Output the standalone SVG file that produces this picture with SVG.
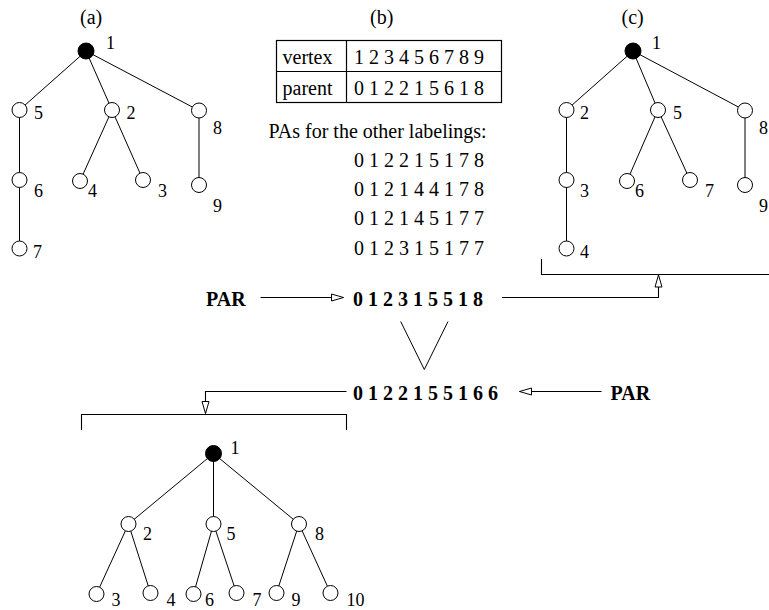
<svg xmlns="http://www.w3.org/2000/svg" width="769" height="610" viewBox="0 0 769 610">
  <style>
    text { font-family: "Liberation Serif", "Times New Roman", serif; fill: #000; }
    .cap { font-size: 20px; }
    .lbl { font-size: 18px; }
    .seq { font-size: 20px; font-weight: bold; }
    .node { fill: #fff; stroke: #000; stroke-width: 1; }
    .root { fill: #000; stroke: #000; stroke-width: 1; }
    .edge { fill: none; stroke: #000; stroke-width: 1; }
    .wire { fill: none; stroke: #000; stroke-width: 1.1; }
    .grid { fill: none; stroke: #000; stroke-width: 1.2; }
  </style>
  <defs>
    <marker id="openArrow" markerUnits="userSpaceOnUse" markerWidth="14" markerHeight="9" refX="12" refY="3.5" orient="auto" overflow="visible">
      <path d="M0,0 L12,3.5 L0,7 Z" fill="#fff" stroke="#000" stroke-width="1"/>
    </marker>
  </defs>

  <rect width="769" height="610" fill="#fff"/>

  <!-- panel captions -->
  <text class="cap" x="80" y="24">(a)</text>
  <text class="cap" x="370" y="24">(b)</text>
  <text class="cap" x="621.5" y="24">(c)</text>

  <!-- tree edges -->
  <g id="connectors">
    <!-- tree (a) -->
    <line class="edge" x1="86" y1="51" x2="19.5" y2="110"/>
    <line class="edge" x1="86" y1="51" x2="112" y2="110"/>
    <line class="edge" x1="86" y1="51" x2="199" y2="110.5"/>
    <line class="edge" x1="19.5" y1="110" x2="19.5" y2="180"/>
    <line class="edge" x1="19.5" y1="180" x2="19.5" y2="248.5"/>
    <line class="edge" x1="112" y1="110" x2="80" y2="181"/>
    <line class="edge" x1="112" y1="110" x2="143" y2="180"/>
    <line class="edge" x1="199" y1="110.5" x2="199" y2="185"/>
    <!-- tree (c) -->
    <line class="edge" x1="633" y1="51" x2="566.5" y2="110"/>
    <line class="edge" x1="633" y1="51" x2="658" y2="110"/>
    <line class="edge" x1="633" y1="51" x2="745" y2="110.5"/>
    <line class="edge" x1="566.5" y1="110" x2="566.5" y2="180"/>
    <line class="edge" x1="566.5" y1="180" x2="566.5" y2="248.5"/>
    <line class="edge" x1="658" y1="110" x2="627" y2="181"/>
    <line class="edge" x1="658" y1="110" x2="690" y2="180"/>
    <line class="edge" x1="745" y1="110.5" x2="745" y2="185"/>
    <!-- result tree -->
    <line class="edge" x1="213.5" y1="453.5" x2="128.5" y2="524"/>
    <line class="edge" x1="213.5" y1="453.5" x2="213.5" y2="524"/>
    <line class="edge" x1="213.5" y1="453.5" x2="299" y2="524"/>
    <line class="edge" x1="128.5" y1="524" x2="96.5" y2="594"/>
    <line class="edge" x1="128.5" y1="524" x2="150.5" y2="593"/>
    <line class="edge" x1="213.5" y1="524" x2="193.5" y2="594"/>
    <line class="edge" x1="213.5" y1="524" x2="236.5" y2="593"/>
    <line class="edge" x1="299" y1="524" x2="276.5" y2="593"/>
    <line class="edge" x1="299" y1="524" x2="330.5" y2="593"/>

    <!-- flow wires between the codes and the trees -->
    <line class="wire" x1="260.5" y1="297.5" x2="343.5" y2="297.5" marker-end="url(#openArrow)"/>
    <polyline class="wire" points="502,297.5 658.5,297.5 658.5,275" marker-end="url(#openArrow)"/>
    <line class="wire" x1="601.5" y1="391.5" x2="519.5" y2="391.5" marker-end="url(#openArrow)"/>
    <polyline class="wire" points="346.5,391.5 205.5,391.5 205.5,413.5" marker-end="url(#openArrow)"/>
    <!-- brackets -->
    <polyline class="wire" points="541.5,259 541.5,274.5 769,274.5"/>
    <polyline class="wire" points="81.5,430 81.5,414.5 346.5,414.5 346.5,430"/>
    <!-- join symbol -->
    <polyline class="edge" points="400.7,321.5 424.3,369.5 448,321.5" stroke-width="1.2"/>
  </g>

  <!-- tree (a) -->
  <g id="a1"><circle class="root" cx="86" cy="51" r="8"/><text class="lbl" x="106" y="48.5">1</text></g>
  <g id="a5"><circle class="node" cx="19.5" cy="110" r="7.5"/><text class="lbl" x="34" y="119">5</text></g>
  <g id="a2"><circle class="node" cx="112" cy="110" r="7.5"/><text class="lbl" x="126.5" y="119">2</text></g>
  <g id="a8"><circle class="node" cx="199" cy="110.5" r="7.5"/><text class="lbl" x="213" y="134">8</text></g>
  <g id="a6"><circle class="node" cx="19.5" cy="180" r="7.5"/><text class="lbl" x="34" y="196.5">6</text></g>
  <g id="a4"><circle class="node" cx="80" cy="181" r="7.5"/><text class="lbl" x="88" y="196.5">4</text></g>
  <g id="a3"><circle class="node" cx="143" cy="180" r="7.5"/><text class="lbl" x="158" y="196.5">3</text></g>
  <g id="a9"><circle class="node" cx="199" cy="185" r="7.5"/><text class="lbl" x="213" y="211.5">9</text></g>
  <g id="a7"><circle class="node" cx="19.5" cy="248.5" r="7.5"/><text class="lbl" x="33" y="257.5">7</text></g>

  <!-- table (b) -->
  <g id="table">
    <rect class="grid" x="276.5" y="40.5" width="225" height="62"/>
    <line class="grid" x1="346.5" y1="40.5" x2="346.5" y2="102.5"/>
    <line class="grid" x1="276.5" y1="71.5" x2="501.5" y2="71.5"/>
    <text class="cap" x="282.5" y="64">vertex</text>
    <text class="cap" x="354" y="64">1 2 3 4 5 6 7 8 9</text>
    <text class="cap" x="282.5" y="95">parent</text>
    <text class="cap" x="354" y="95">0 1 2 2 1 5 6 1 8</text>
  </g>

  <g id="other-labelings">
    <text class="cap" x="268.5" y="137.5">PAs for the other labelings:</text>
    <text class="cap" x="354" y="166.5">0 1 2 2 1 5 1 7 8</text>
    <text class="cap" x="354" y="196">0 1 2 1 4 4 1 7 8</text>
    <text class="cap" x="354" y="225">0 1 2 1 4 5 1 7 7</text>
    <text class="cap" x="354" y="254.5">0 1 2 3 1 5 1 7 7</text>
  </g>

  <!-- parent codes -->
  <g id="par-top"><text class="seq" x="206" y="306">PAR</text></g>
  <g id="code-c"><text class="seq" x="353" y="306">0 1 2 3 1 5 5 1 8</text></g>
  <g id="code-join"><text class="seq" x="353" y="399.5">0 1 2 2 1 5 5 1 6 6</text></g>
  <g id="par-bottom"><text class="seq" x="610.5" y="399.5">PAR</text></g>

  <!-- tree (c) -->
  <g id="c1"><circle class="root" cx="633" cy="51" r="8"/><text class="lbl" x="652" y="48.5">1</text></g>
  <g id="c2"><circle class="node" cx="566.5" cy="110" r="7.5"/><text class="lbl" x="580" y="119">2</text></g>
  <g id="c5"><circle class="node" cx="658" cy="110" r="7.5"/><text class="lbl" x="673" y="119">5</text></g>
  <g id="c8"><circle class="node" cx="745" cy="110.5" r="7.5"/><text class="lbl" x="759" y="134">8</text></g>
  <g id="c3"><circle class="node" cx="566.5" cy="180" r="7.5"/><text class="lbl" x="580" y="196.5">3</text></g>
  <g id="c6"><circle class="node" cx="627" cy="181" r="7.5"/><text class="lbl" x="635" y="196.5">6</text></g>
  <g id="c7"><circle class="node" cx="690" cy="180" r="7.5"/><text class="lbl" x="705" y="196.5">7</text></g>
  <g id="c9"><circle class="node" cx="745" cy="185" r="7.5"/><text class="lbl" x="759" y="211.5">9</text></g>
  <g id="c4"><circle class="node" cx="566.5" cy="248.5" r="7.5"/><text class="lbl" x="580" y="257.5">4</text></g>

  <!-- joined tree -->
  <g id="b1"><circle class="root" cx="213.5" cy="453.5" r="8"/><text class="lbl" x="230.5" y="454">1</text></g>
  <g id="b2"><circle class="node" cx="128.5" cy="524" r="7.5"/><text class="lbl" x="143" y="540">2</text></g>
  <g id="b5"><circle class="node" cx="213.5" cy="524" r="7.5"/><text class="lbl" x="226.5" y="540">5</text></g>
  <g id="b8"><circle class="node" cx="299" cy="524" r="7.5"/><text class="lbl" x="315" y="540">8</text></g>
  <g id="b3"><circle class="node" cx="96.5" cy="594" r="7.5"/><text class="lbl" x="111.5" y="605.5">3</text></g>
  <g id="b4"><circle class="node" cx="150.5" cy="593" r="7.5"/><text class="lbl" x="166.5" y="605.5">4</text></g>
  <g id="b6"><circle class="node" cx="193.5" cy="594" r="7.5"/><text class="lbl" x="205" y="605.5">6</text></g>
  <g id="b7"><circle class="node" cx="236.5" cy="593" r="7.5"/><text class="lbl" x="252.5" y="605.5">7</text></g>
  <g id="b9"><circle class="node" cx="276.5" cy="593" r="7.5"/><text class="lbl" x="291.5" y="605.5">9</text></g>
  <g id="b10"><circle class="node" cx="330.5" cy="593" r="7.5"/><text class="lbl" x="346.5" y="605.5">10</text></g>
</svg>
